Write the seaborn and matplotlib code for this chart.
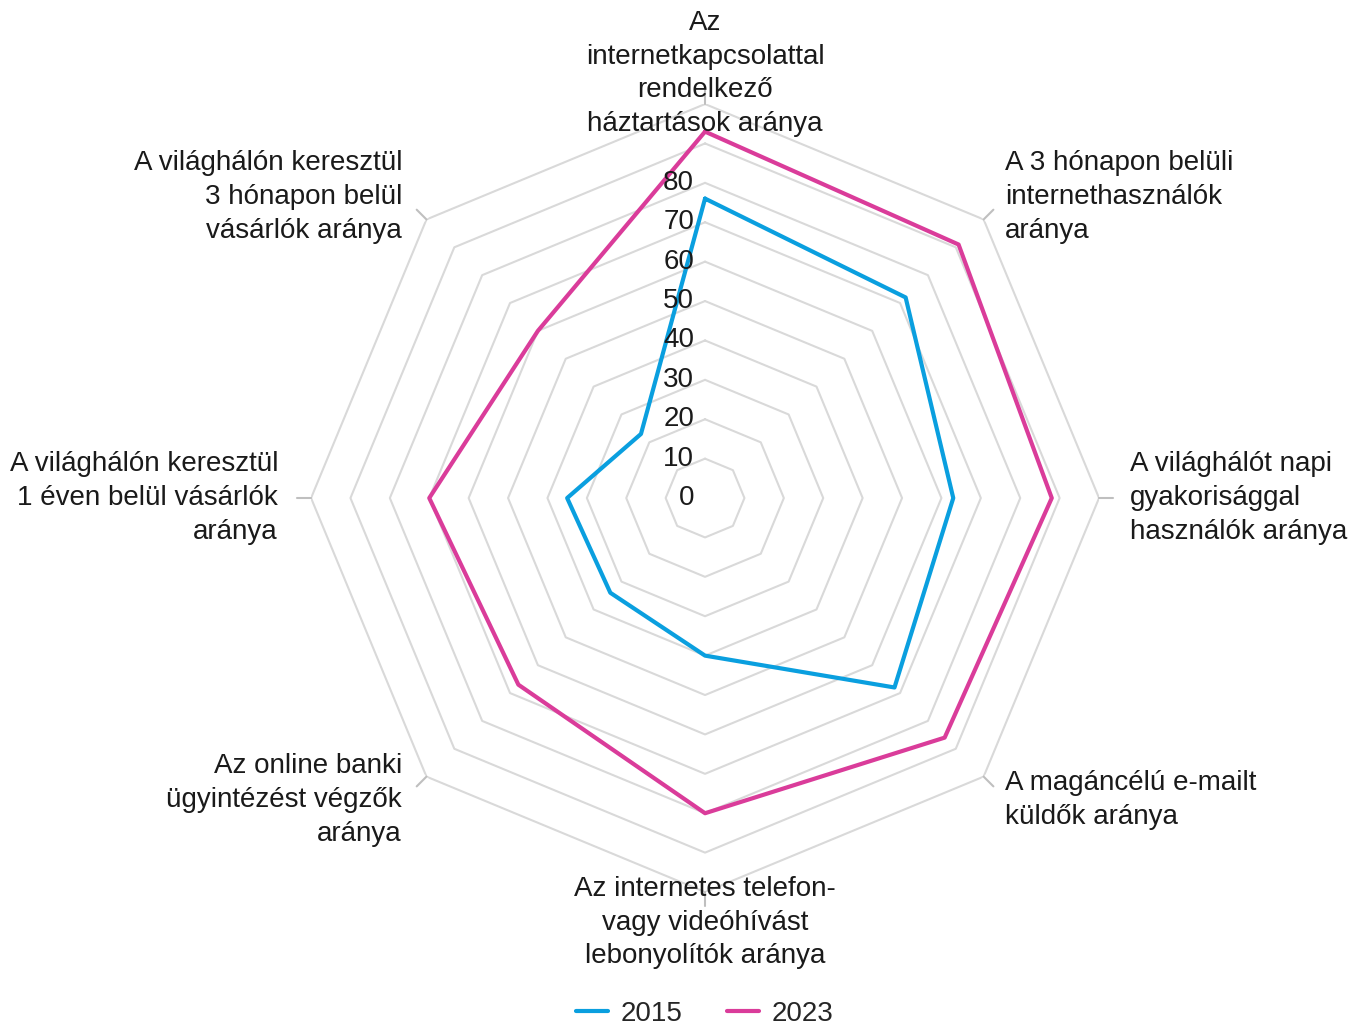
import numpy as np
import pandas as pd
import matplotlib.pyplot as plt
import matplotlib.transforms as mtransforms
import seaborn as sns

# Data
categories = [
    "Az\ninternetkapcsolattal\nrendelkező\nháztartások aránya",
    "A 3 hónapon belüli\ninternethasználók\naránya",
    "A világhálót napi\ngyakorisággal\nhasználók aránya",
    "A magáncélú e-mailt\nküldők aránya",
    "Az internetes telefon-\nvagy videóhívást\nlebonyolítók aránya",
    "Az online banki\nügyintézést végzők\naránya",
    "A világhálón keresztül\n1 éven belül vásárlók\naránya",
    "A világhálón keresztül\n3 hónapon belül\nvásárlók aránya",
]
values_2015 = [76, 72, 63, 68, 40, 34, 35, 23]
values_2023 = [93, 91, 88, 86, 80, 67, 70, 60]
years = ["2015", "2023"]
tick_values = [0, 10, 20, 30, 40, 50, 60, 70, 80]
ring_values = [10, 20, 30, 40, 50, 60, 70, 80, 90, 100]

colors = {"2015": "#0A9FDF", "2023": "#DA3C9A"}

sns.set_theme(style="white")
plt.rcParams["font.family"] = ["Liberation Sans", "DejaVu Sans"]

n = len(categories)
angles = np.linspace(0, 2 * np.pi, n, endpoint=False)
closed = np.append(angles, 2 * np.pi)

rows = []
for year, vals in zip(years, [values_2015, values_2023]):
    vv = list(vals) + [vals[0]]
    for i, (t, v) in enumerate(zip(closed, vv)):
        rows.append({"theta": t, "value": v, "year": year, "order": i})
df = pd.DataFrame(rows)

fig = plt.figure(figsize=(13.53, 10.29), dpi=100)
ax = fig.add_axes([0.2299, 0.1331, 0.5824, 0.7658], projection="polar")
ax.set_theta_zero_location("N")
ax.set_theta_direction(-1)
ax.set_ylim(0, 100)
ax.grid(False)
ax.spines["polar"].set_visible(False)
ax.set_xticks([])
ax.set_yticks([])

# polygon rings
for r in ring_values:
    ax.plot(closed, [r] * len(closed), color="#D9D9D9", lw=1.5, zorder=1)
# small outer tick marks
for t in angles:
    ax.plot([t, t], [100, 103.5], color="#BFBFBF", lw=1.5, zorder=1, clip_on=False)

sns.lineplot(data=df, x="theta", y="value", hue="year", palette=colors,
             sort=False, estimator=None, units="year", lw=3, ax=ax, zorder=3)
handles, labels = ax.get_legend_handles_labels()
ax.get_legend().remove()
ax.set_xlabel("")
ax.set_ylabel("")

# radial tick labels
off = mtransforms.offset_copy(ax.transData, fig=fig, x=-11, y=0, units="dots")
for v in tick_values:
    ax.text(0, v, str(v), transform=off, ha="right", va="center",
            fontsize=20, color="#1a1a1a", zorder=4)

# category labels (pixel positions from top-left)
W, H = 1353, 1029
label_pos = [
    (705, 137, "center", "bottom"),
    (1005, 197, "left", "center"),
    (1130, 498, "left", "center"),
    (1005, 800, "left", "center"),
    (705, 876, "center", "top"),
    (402, 800, "right", "center"),
    (278, 498, "right", "center"),
    (402, 197, "right", "center"),
]
for lab, (px, py, ha, va) in zip(categories, label_pos):
    fig.text(px / W, 1 - py / H, lab, ha=ha, va=va, fontsize=20,
             color="#1a1a1a", linespacing=1.38, multialignment=ha)

fig.legend(handles, labels, loc="lower center", bbox_to_anchor=(0.521, -0.022),
           ncol=2, frameon=False, fontsize=20, handlelength=1.15,
           columnspacing=1.6, handletextpad=0.45)

fig.savefig("out.png", dpi=100, facecolor="white")
